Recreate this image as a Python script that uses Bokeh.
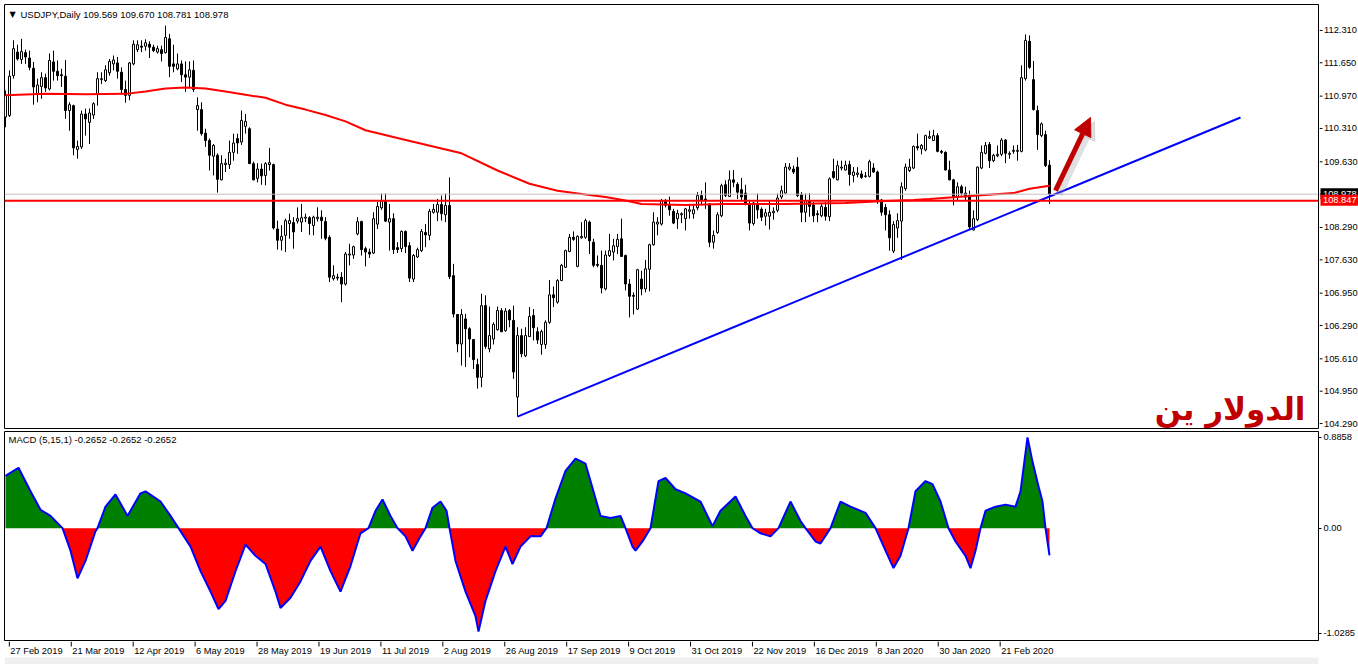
import numpy as np
from bokeh.plotting import figure
from bokeh.layouts import column, row
from bokeh.models import (Range1d, FixedTicker, Span, Label, Arrow, NormalHead)
from bokeh.core.properties import value
from bokeh.embed import file_html
from bokeh.resources import INLINE

# ---------------- data ----------------
opens = [
    110.55, 110.58, 111.39, 111.87, 111.72, 111.86, 111.75, 111.54, 111.02, 111.17,
    111.35, 111.12, 111.67, 111.48, 111.41, 111.38, 110.68, 110.78, 109.89, 109.94,
    110.61, 110.44, 110.59, 111.01, 111.31, 111.29, 111.45, 111.63, 111.65, 111.46,
    111.11, 110.99, 111.63, 111.92, 111.99, 111.99, 112.03, 111.97, 111.87, 111.92,
    111.86, 112.14, 111.63, 111.53, 111.63, 111.41, 111.36, 111.50, 110.70, 110.70,
    110.22, 110.07, 109.75, 109.77, 109.27, 109.58, 109.58, 109.83, 110.11, 110.04,
    110.36, 110.31, 109.60, 109.30, 109.49, 109.36, 109.58, 109.58, 108.27, 108.04,
    108.14, 108.38, 108.40, 108.43, 108.41, 108.49, 108.50, 108.34, 108.48, 108.51,
    108.42, 108.10, 107.26, 107.27, 107.29, 107.15, 107.74, 107.74, 108.17, 108.42,
    107.87, 107.80, 107.78, 108.37, 108.70, 108.85, 108.41, 108.48, 107.89, 107.87,
    108.22, 107.93, 107.25, 107.70, 107.83, 108.20, 108.14, 108.61, 108.61, 108.77,
    108.56, 108.75, 107.32, 106.53, 105.93, 106.44, 106.24, 106.02, 105.51, 105.25,
    106.71, 105.83, 106.03, 106.22, 106.61, 106.20, 106.61, 106.41, 104.85, 106.10,
    105.69, 106.08, 106.51, 106.18, 105.92, 105.92, 106.37, 106.93, 106.78, 107.22,
    107.49, 107.81, 108.10, 107.51, 108.09, 108.10, 108.41, 108.00, 107.55, 107.53,
    107.05, 107.73, 107.80, 107.91, 108.07, 107.73, 107.15, 106.92, 106.64, 107.25,
    107.05, 107.45, 107.95, 108.37, 108.37, 108.85, 108.76, 108.63, 108.48, 108.56,
    108.48, 108.63, 108.58, 108.70, 108.95, 108.88, 108.78, 108.00, 108.20, 108.54,
    109.17, 108.93, 109.27, 109.18, 109.07, 109.00, 108.78, 108.38, 108.77, 108.67,
    108.53, 108.53, 108.60, 108.65, 108.92, 109.00, 109.49, 109.49, 109.53, 108.97,
    108.61, 108.85, 108.76, 108.58, 108.54, 108.71, 108.52, 109.44, 109.27, 109.51,
    109.47, 109.58, 109.36, 109.38, 109.39, 109.34, 109.34, 109.51, 109.43, 108.86,
    108.71, 108.56, 107.82, 108.29, 108.43, 109.09, 109.46, 109.51, 109.95, 109.90,
    109.88, 110.12, 110.07, 110.17, 109.85, 109.83, 109.47, 109.27, 108.92, 109.13,
    109.00, 108.95, 108.25, 108.46, 109.51, 109.81, 109.99, 109.66, 109.76, 109.79,
    110.08, 109.79, 109.85, 109.85, 109.85, 111.33, 112.09, 111.31, 110.68, 110.17,
    110.19, 109.569]
highs = [
    111.09, 111.50, 112.11, 112.02, 112.14, 111.92, 111.90, 111.67, 111.33, 111.46,
    111.43, 111.84, 111.90, 111.70, 111.53, 111.71, 110.85, 110.80, 110.07, 110.68,
    110.72, 110.72, 110.85, 111.46, 111.46, 111.60, 111.73, 111.80, 111.77, 111.56,
    111.29, 111.67, 112.11, 112.11, 112.11, 112.13, 112.09, 112.02, 112.00, 112.00,
    112.41, 112.24, 112.02, 111.84, 111.70, 111.68, 111.68, 111.70, 110.95, 110.85,
    110.31, 110.11, 110.00, 109.81, 109.77, 109.70, 110.07, 110.21, 110.21, 110.68,
    110.61, 110.34, 109.64, 109.61, 109.60, 109.63, 109.92, 109.60, 108.44, 108.35,
    108.48, 108.58, 108.51, 108.71, 108.78, 108.58, 108.53, 108.54, 108.71, 108.65,
    108.51, 108.14, 107.53, 107.36, 107.39, 107.80, 107.97, 107.93, 108.51, 108.44,
    107.91, 107.87, 108.61, 108.82, 108.99, 108.99, 108.78, 108.59, 108.00, 108.24,
    108.24, 108.00, 107.76, 107.89, 108.27, 108.37, 108.68, 108.78, 108.88, 108.95,
    108.99, 109.32, 107.56, 106.54, 106.64, 106.54, 106.27, 106.03, 105.63, 106.95,
    106.92, 106.69, 106.37, 106.69, 106.66, 106.66, 106.64, 106.71, 106.27, 106.24,
    106.27, 106.68, 106.64, 106.27, 106.22, 106.41, 107.23, 107.10, 107.25, 107.56,
    107.85, 108.17, 108.22, 108.14, 108.41, 108.48, 108.44, 108.07, 107.73, 107.83,
    107.83, 108.17, 108.07, 108.17, 108.48, 107.75, 107.25, 106.98, 107.46, 107.42,
    107.64, 107.97, 108.61, 108.51, 108.88, 108.88, 108.93, 108.68, 108.66, 108.61,
    108.70, 108.75, 108.75, 109.02, 109.05, 109.22, 108.79, 108.24, 108.61, 109.19,
    109.26, 109.46, 109.47, 109.22, 109.31, 109.17, 108.86, 108.82, 108.99, 108.71,
    108.68, 108.85, 108.71, 108.99, 109.15, 109.61, 109.61, 109.56, 109.73, 109.02,
    108.99, 109.00, 108.82, 108.65, 108.78, 108.82, 109.32, 109.70, 109.66, 109.66,
    109.66, 109.66, 109.53, 109.53, 109.46, 109.43, 109.68, 109.61, 109.46, 108.88,
    108.78, 108.65, 108.43, 108.59, 109.22, 109.60, 109.70, 109.97, 110.21, 110.00,
    110.19, 110.27, 110.29, 110.22, 109.88, 109.85, 109.66, 109.29, 109.22, 109.17,
    109.13, 109.05, 108.65, 109.54, 109.97, 110.04, 110.04, 109.80, 109.97, 110.12,
    110.10, 109.85, 109.97, 109.98, 111.60, 112.23, 112.21, 111.69, 110.78, 110.44,
    110.27, 109.670]
lows = [
    110.34, 110.55, 111.33, 111.70, 111.63, 111.63, 111.50, 110.80, 110.85, 110.92,
    111.06, 111.09, 111.29, 111.29, 111.16, 110.51, 110.27, 109.77, 109.70, 109.90,
    110.17, 110.00, 110.51, 110.78, 111.22, 111.26, 111.39, 111.50, 111.33, 111.02,
    110.84, 110.89, 111.60, 111.87, 111.87, 111.90, 111.75, 111.87, 111.84, 111.68,
    111.84, 111.36, 111.46, 111.50, 111.26, 111.06, 111.16, 111.06, 110.27, 110.17,
    109.94, 109.46, 109.36, 109.01, 109.26, 109.43, 109.49, 109.66, 109.80, 109.98,
    110.21, 109.60, 109.26, 109.22, 109.17, 109.16, 109.46, 108.26, 107.85, 107.83,
    107.80, 108.07, 107.87, 108.38, 108.21, 108.41, 108.15, 108.14, 108.42, 108.07,
    108.04, 107.19, 107.22, 107.22, 106.78, 107.12, 107.53, 107.66, 108.14, 107.73,
    107.51, 107.68, 107.76, 108.27, 108.66, 108.41, 107.83, 107.76, 107.78, 107.80,
    107.78, 107.19, 107.19, 107.68, 107.80, 107.90, 108.04, 108.58, 108.43, 108.44,
    108.41, 107.25, 106.47, 105.76, 105.49, 105.46, 105.66, 105.42, 105.02, 105.05,
    105.83, 105.76, 105.92, 106.20, 106.17, 106.18, 106.27, 105.22, 104.45, 105.66,
    105.66, 106.07, 106.00, 105.93, 105.71, 105.83, 106.34, 106.68, 106.75, 107.21,
    107.48, 107.80, 108.03, 107.49, 108.07, 108.07, 107.76, 107.49, 107.49, 106.96,
    107.02, 107.70, 107.63, 107.76, 107.70, 107.02, 106.47, 106.53, 106.62, 106.92,
    106.98, 107.00, 107.93, 108.14, 108.34, 108.71, 108.54, 108.37, 108.27, 108.39,
    108.24, 108.48, 108.48, 108.65, 108.78, 108.68, 107.90, 107.87, 108.17, 108.51,
    108.92, 108.92, 109.12, 108.88, 108.86, 108.75, 108.24, 108.34, 108.48, 108.43,
    108.34, 108.26, 108.46, 108.61, 108.88, 108.99, 109.46, 109.39, 108.92, 108.41,
    108.41, 108.52, 108.41, 108.41, 108.51, 108.44, 108.43, 109.29, 109.26, 109.46,
    109.46, 109.15, 109.22, 109.32, 109.29, 109.31, 109.32, 109.41, 108.78, 108.54,
    108.24, 107.83, 107.78, 108.09, 107.64, 109.05, 109.43, 109.49, 109.87, 109.79,
    109.85, 110.10, 110.06, 109.83, 109.80, 109.46, 109.26, 108.75, 108.85, 108.95,
    108.85, 108.27, 108.24, 108.43, 109.49, 109.79, 109.51, 109.63, 109.73, 109.75,
    109.61, 109.70, 109.80, 109.66, 109.83, 111.29, 111.53, 110.68, 109.88, 110.14,
    109.53, 108.781]
closes = [
    110.99, 111.38, 111.94, 111.73, 111.88, 111.77, 111.56, 111.16, 111.20, 111.35,
    111.14, 111.70, 111.48, 111.39, 111.39, 110.68, 110.80, 109.92, 109.95, 110.61,
    110.51, 110.63, 110.82, 111.33, 111.33, 111.51, 111.68, 111.71, 111.48, 111.11,
    110.99, 111.65, 112.03, 112.02, 111.97, 112.06, 111.97, 111.90, 111.94, 111.84,
    112.17, 111.58, 111.58, 111.63, 111.41, 111.36, 111.51, 111.11, 110.78, 110.21,
    110.07, 109.77, 109.97, 109.28, 109.60, 109.61, 109.83, 110.02, 110.02, 110.48,
    110.46, 109.60, 109.27, 109.49, 109.35, 109.60, 109.62, 108.29, 108.04, 108.12,
    108.44, 108.44, 108.21, 108.48, 108.50, 108.51, 108.38, 108.51, 108.51, 108.44,
    108.08, 107.29, 107.32, 107.29, 107.15, 107.76, 107.76, 107.91, 108.42, 107.85,
    107.80, 107.76, 108.48, 108.73, 108.85, 108.43, 108.48, 107.85, 107.85, 108.22,
    107.91, 107.27, 107.73, 107.85, 108.22, 108.15, 108.63, 108.67, 108.77, 108.58,
    108.75, 107.30, 106.54, 105.93, 106.53, 106.24, 106.03, 105.61, 105.25, 106.71,
    105.88, 106.10, 106.33, 106.61, 106.18, 106.60, 106.42, 105.36, 106.10, 105.73,
    106.10, 106.49, 106.26, 106.01, 106.18, 106.37, 106.93, 106.87, 107.22, 107.53,
    107.83, 108.10, 108.06, 108.12, 108.12, 108.44, 108.03, 107.53, 107.53, 107.07,
    107.74, 107.83, 107.93, 108.06, 107.71, 107.15, 106.90, 106.90, 107.44, 107.05,
    107.46, 107.95, 108.41, 108.41, 108.85, 108.75, 108.66, 108.39, 108.59, 108.58,
    108.68, 108.66, 108.66, 108.95, 108.85, 108.84, 108.00, 108.14, 108.56, 109.15,
    108.95, 109.27, 109.22, 109.02, 108.92, 108.80, 108.39, 108.80, 108.66, 108.51,
    108.60, 108.61, 108.63, 108.90, 109.05, 109.53, 109.53, 109.43, 108.95, 108.61,
    108.85, 108.73, 108.54, 108.56, 108.73, 108.53, 109.29, 109.32, 109.56, 109.53,
    109.57, 109.38, 109.43, 109.41, 109.32, 109.35, 109.64, 109.43, 108.86, 108.61,
    108.56, 108.09, 108.36, 108.44, 109.13, 109.53, 109.53, 109.95, 109.92, 109.97,
    110.17, 110.15, 110.17, 109.85, 109.83, 109.47, 109.27, 108.92, 109.13, 109.00,
    108.92, 108.31, 108.48, 109.53, 109.83, 109.97, 109.66, 109.77, 109.79, 110.08,
    109.81, 109.81, 109.87, 109.87, 111.35, 112.11, 111.56, 110.70, 110.19, 110.41,
    109.56, 108.978]

# moving average (red line), read at a number of bars
ma_x = [0, 10, 20, 30, 35, 40, 45, 50, 55, 60, 65, 70, 75, 80, 85, 90, 99, 114,
        123, 131, 138, 145, 150, 155, 159, 170, 180, 195, 210, 220, 227, 231, 243,
        252, 256, 261]
ma_y = [110.99, 111.02, 111.01, 111.02, 111.07, 111.13, 111.15, 111.13, 111.07,
        111.00, 110.94, 110.80, 110.70, 110.59, 110.46, 110.28, 110.10, 109.81,
        109.46, 109.19, 109.05, 108.97, 108.92, 108.85, 108.78, 108.76, 108.78,
        108.78, 108.80, 108.84, 108.86, 108.88, 108.95, 109.00, 109.09, 109.15]

# MACD (5,15,1)
macd_x = [0, 3.25, 6.25, 8.75, 11.25, 14.25, 16.25, 18, 20, 22.5, 23, 25, 27.5, 30.5,
          33.75, 35, 38.75, 41.25, 43.25, 46.25, 48.75, 51.25, 53.25, 55, 57.5, 60,
          62.5, 65, 67.5, 68.75, 71.25, 73.75, 76.25, 78.75, 81.25, 83.75, 86.25,
          88.75, 90.75, 92.5, 94.25, 96.25, 98, 100, 101.75, 103.75, 105, 106.75,
          108.75, 110.25, 111, 112.5, 115, 117.5, 118.25, 120, 122.5, 125, 126.75,
          128.75, 131.25, 133.75, 135.25, 137.5, 140, 142.5, 145, 146.25, 148.75,
          151.25, 153.75, 155, 156.75, 157.5, 159.25, 161.25, 163.25, 165, 167.5,
          170, 173.75, 176.75, 178.75, 182.5, 185, 186.75, 188.75, 191.25, 193.25,
          196.25, 198.75, 200, 202.5, 203.75, 206.25, 208.75, 211.25, 215, 217.5,
          220, 222, 223.75, 225.75, 227.5, 230, 231.75, 233.75, 235.75, 237.5, 240,
          241.25, 242.5, 243.75, 245, 247.5, 250, 252.5, 253.75, 255.5, 256.75,
          258.25, 259.25, 260, 261]
macd_v = [0.51, 0.59, 0.36, 0.18, 0.12, 0, -0.22, -0.49, -0.32, -0.03, 0, 0.21, 0.33,
          0.12, 0.34, 0.36, 0.26, 0.12, 0, -0.18, -0.42, -0.62, -0.79, -0.71, -0.42,
          -0.16, -0.27, -0.35, -0.62, -0.78, -0.68, -0.52, -0.32, -0.18, -0.42, -0.62,
          -0.37, -0.05, 0, 0.17, 0.28, 0.12, 0, -0.08, -0.22, -0.08, 0, 0.20, 0.26,
          0.17, 0, -0.32, -0.62, -0.86, -1.01, -0.71, -0.42, -0.18, -0.35, -0.18,
          -0.08, -0.08, 0, 0.29, 0.56, 0.68, 0.63, 0.46, 0.12, 0.10, 0.12, 0, -0.18,
          -0.22, -0.13, 0, 0.46, 0.49, 0.38, 0.34, 0.26, 0.02, 0.17, 0.31, 0.12, 0,
          -0.05, -0.08, 0, 0.26, 0.07, 0, -0.13, -0.15, 0, 0.26, 0.21, 0.15, 0,
          -0.22, -0.39, -0.27, 0, 0.36, 0.46, 0.43, 0.26, 0, -0.13, -0.27, -0.39,
          -0.22, 0, 0.17, 0.21, 0.23, 0.21, 0.36, 0.8858, 0.65, 0.41, 0.26, 0,
          -0.2652]

# drawn objects
trend_x = [128, 308.75]
trend_y = [104.45, 110.54]
arrow_x = [262.5, 271.25]
arrow_y = [109.05, 110.54]
hline_level = 108.847
bid_level = 108.978

# axis ticks and labels
price_ticks = [104.29, 104.95, 105.61, 106.29, 106.95, 107.63, 108.29, 108.97,
               109.63, 110.31, 110.97, 111.65, 112.31]
price_labels = ["104.290", "104.950", "105.610", "106.290", "106.950", "107.630",
                "108.290", "108.970", "109.630", "110.310", "110.970", "111.650",
                "112.310"]
macd_ticks = [-1.0285, 0.0, 0.8858]
macd_labels = ["-1.0285", "0.00", "0.8858"]
date_ticks = [0, 16, 32, 48, 64, 80, 96, 112, 128, 144, 160, 176, 192, 208, 224,
              240, 256]
date_labels = ["27 Feb 2019", "21 Mar 2019", "12 Apr 2019", "6 May 2019",
               "28 May 2019", "19 Jun 2019", "11 Jul 2019", "2 Aug 2019",
               "26 Aug 2019", "17 Sep 2019", "9 Oct 2019", "31 Oct 2019",
               "22 Nov 2019", "16 Dec 2019", "8 Jan 2020", "30 Jan 2020",
               "21 Feb 2020"]
header_text = "USDJPY,Daily  109.569 109.670 108.781 108.978"
macd_header = "MACD (5,15,1) -0.2652 -0.2652 -0.2652"
arabic_text = "الدولار ين"

# ---------------- drawing ----------------
FONT = "Liberation Sans"
FS = "9.5px"      # header texts
AFS = "9.3px"     # scale texts
TOTAL_W = 1358
MAIN_W = 1319
PX_PER_UNIT = 424 / (112.839 - 104.209)

o = np.array(opens); h = np.array(highs); l = np.array(lows); c = np.array(closes)
idx = np.arange(len(c))
bull = c >= o

xr = Range1d(-0.25, 328.25)          # 4 px per bar
yr = Range1d(104.209, 112.839)

# ----- main price pane -----
p = figure(width=MAIN_W, height=429, x_range=xr, y_range=yr,
           output_backend="svg", toolbar_location=None, y_axis_location=None,
           x_axis_location=None, min_border_left=4, min_border_right=1,
           min_border_top=4, min_border_bottom=1)
p.grid.visible = False
p.outline_line_color = "black"
p.border_fill_color = "white"
p.background_fill_color = "white"

p.add_layout(Span(location=bid_level, dimension="width", line_color="#c0c0c0", line_width=1))

p.segment(x0=idx, y0=l, x1=idx, y1=h, line_color="black", line_width=1)
p.vbar(x=idx[bull], top=c[bull], bottom=o[bull], width=0.5,
       fill_color="white", line_color="black", line_width=1)
p.vbar(x=idx[~bull], top=o[~bull], bottom=c[~bull], width=0.5,
       fill_color="black", line_color="black", line_width=1)

p.line(ma_x, ma_y, line_color="#ff0000", line_width=2)
p.line(trend_x, trend_y, line_color="#0000ff", line_width=2)
p.add_layout(Span(location=hline_level, dimension="width", line_color="#ff0000", line_width=2))

# arrow with soft shadow
p.add_layout(Arrow(end=NormalHead(size=18, fill_color="#999999", line_color="#999999",
                                  fill_alpha=0.3, line_alpha=0.3),
                   x_start=arrow_x[0] + 1.0, y_start=arrow_y[0] - 0.08,
                   x_end=arrow_x[1] + 1.0, y_end=arrow_y[1] - 0.08,
                   line_color="#999999", line_alpha=0.3, line_width=6))
p.add_layout(Arrow(end=NormalHead(size=18, fill_color="#c00000", line_color="#c00000"),
                   x_start=arrow_x[0], y_start=arrow_y[0], x_end=arrow_x[1], y_end=arrow_y[1],
                   line_color="#c00000", line_width=5))

p.add_layout(Label(x=325, y=104.60, text=arabic_text, text_align="right",
                   text_baseline="alphabetic", text_font="DejaVu Sans",
                   text_font_style="bold", text_font_size="31px", text_color="#c00000"))

# header
p.add_layout(Label(x=5, y=414, x_units="screen", y_units="screen", text="\u25BC",
                   text_font="DejaVu Sans", text_font_size="8px", text_baseline="middle",
                   text_color="black"))
p.add_layout(Label(x=16, y=414, x_units="screen", y_units="screen", text=header_text,
                   text_font=FONT, text_font_size=FS, text_baseline="middle",
                   text_color="black"))

# ----- price scale strip (right of the price pane) -----
SW = TOTAL_W - MAIN_W
pa = figure(width=SW, height=429, x_range=Range1d(0, SW),
            y_range=Range1d(104.209 - 1 / PX_PER_UNIT, 112.839),
            output_backend="svg", toolbar_location=None, y_axis_location=None,
            x_axis_location=None, min_border_left=0, min_border_right=0,
            min_border_top=4, min_border_bottom=0)
pa.grid.visible = False
pa.outline_line_color = None
pa.border_fill_color = "white"
pa.background_fill_color = "white"
nt = len(price_ticks)
pa.segment(x0=[0] * nt, x1=[3] * nt, y0=price_ticks, y1=price_ticks,
           line_color="black", line_width=1)
pa.text(x=[4.5] * nt, y=price_ticks, text=price_labels, text_font=value(FONT),
        text_font_size=value(AFS), text_baseline="middle", text_align="left",
        text_color="black")
pa.rect(x=[20], y=[bid_level], width=38, height=11, height_units="screen",
        fill_color="black", line_color=None)
pa.text(x=[3.5], y=[bid_level], text=["108.978"], text_font=value(FONT),
        text_font_size=value(AFS), text_baseline="middle", text_align="left",
        text_color="white")
pa.rect(x=[20], y=[hline_level], width=38, height=11, height_units="screen",
        fill_color="#ff0000", line_color=None)
pa.text(x=[3.5], y=[hline_level], text=["108.847"], text_font=value(FONT),
        text_font_size=value(AFS), text_baseline="middle", text_align="left",
        text_color="white")

# ----- MACD pane -----
q = figure(width=TOTAL_W, height=212, x_range=xr, y_range=Range1d(-1.097, 0.944),
           output_backend="svg", toolbar_location=None, y_axis_location="right",
           x_axis_location=None, min_border_left=4, min_border_right=40,
           min_border_top=2, min_border_bottom=1)
q.grid.visible = False
q.outline_line_color = "black"
q.border_fill_color = "white"
q.background_fill_color = "white"

mx = np.array(macd_x); mv = np.array(macd_v)
q.varea(x=mx, y1=0, y2=np.maximum(mv, 0), fill_color="#008000")
q.varea(x=mx, y1=np.minimum(mv, 0), y2=0, fill_color="#ff0000")
q.line(mx, mv, line_color="#0000ff", line_width=2)

qa = q.yaxis[0]
qa.ticker = FixedTicker(ticks=macd_ticks)
qa.major_label_overrides = {t: s for t, s in zip(macd_ticks, macd_labels)}
qa.major_tick_in = 0
qa.major_tick_out = 3
qa.minor_tick_line_color = None
qa.axis_line_color = "black"
qa.major_label_standoff = 2
qa.major_label_text_font = FONT
qa.major_label_text_font_size = AFS
qa.major_label_text_color = "black"

q.add_layout(Label(x=4, y=201, x_units="screen", y_units="screen", text=macd_header,
                   text_font=FONT, text_font_size=FS, text_baseline="middle",
                   text_color="black"))

# ----- date strip -----
SH = 664 - 429 - 212
s = figure(width=TOTAL_W, height=SH, x_range=Range1d(-1.25, -1.25 + TOTAL_W / 4.0),
           y_range=Range1d(0, SH), output_backend="svg", toolbar_location=None,
           x_axis_location=None, y_axis_location=None, min_border_left=0,
           min_border_right=0, min_border_top=0, min_border_bottom=0)
s.grid.visible = False
s.outline_line_color = None
s.border_fill_color = "white"
s.background_fill_color = "white"
s.quad(left=[-1.25], right=[-1.25 + TOTAL_W / 4.0], bottom=[0], top=[7],
       fill_color="#f0f0f0", line_color=None)
s.segment(x0=date_ticks, x1=date_ticks, y0=[SH] * len(date_ticks),
          y1=[SH - 5] * len(date_ticks), line_color="black", line_width=1)
s.text(x=date_ticks, y=[SH - 9] * len(date_ticks), text=date_labels, x_offset=1,
       text_font=value(FONT), text_font_size=value(AFS), text_baseline="middle",
       text_align="left", text_color="black")

layout = column(row(p, pa, spacing=0), q, s, spacing=0)
open("out.html", "w").write(file_html(layout, INLINE))
